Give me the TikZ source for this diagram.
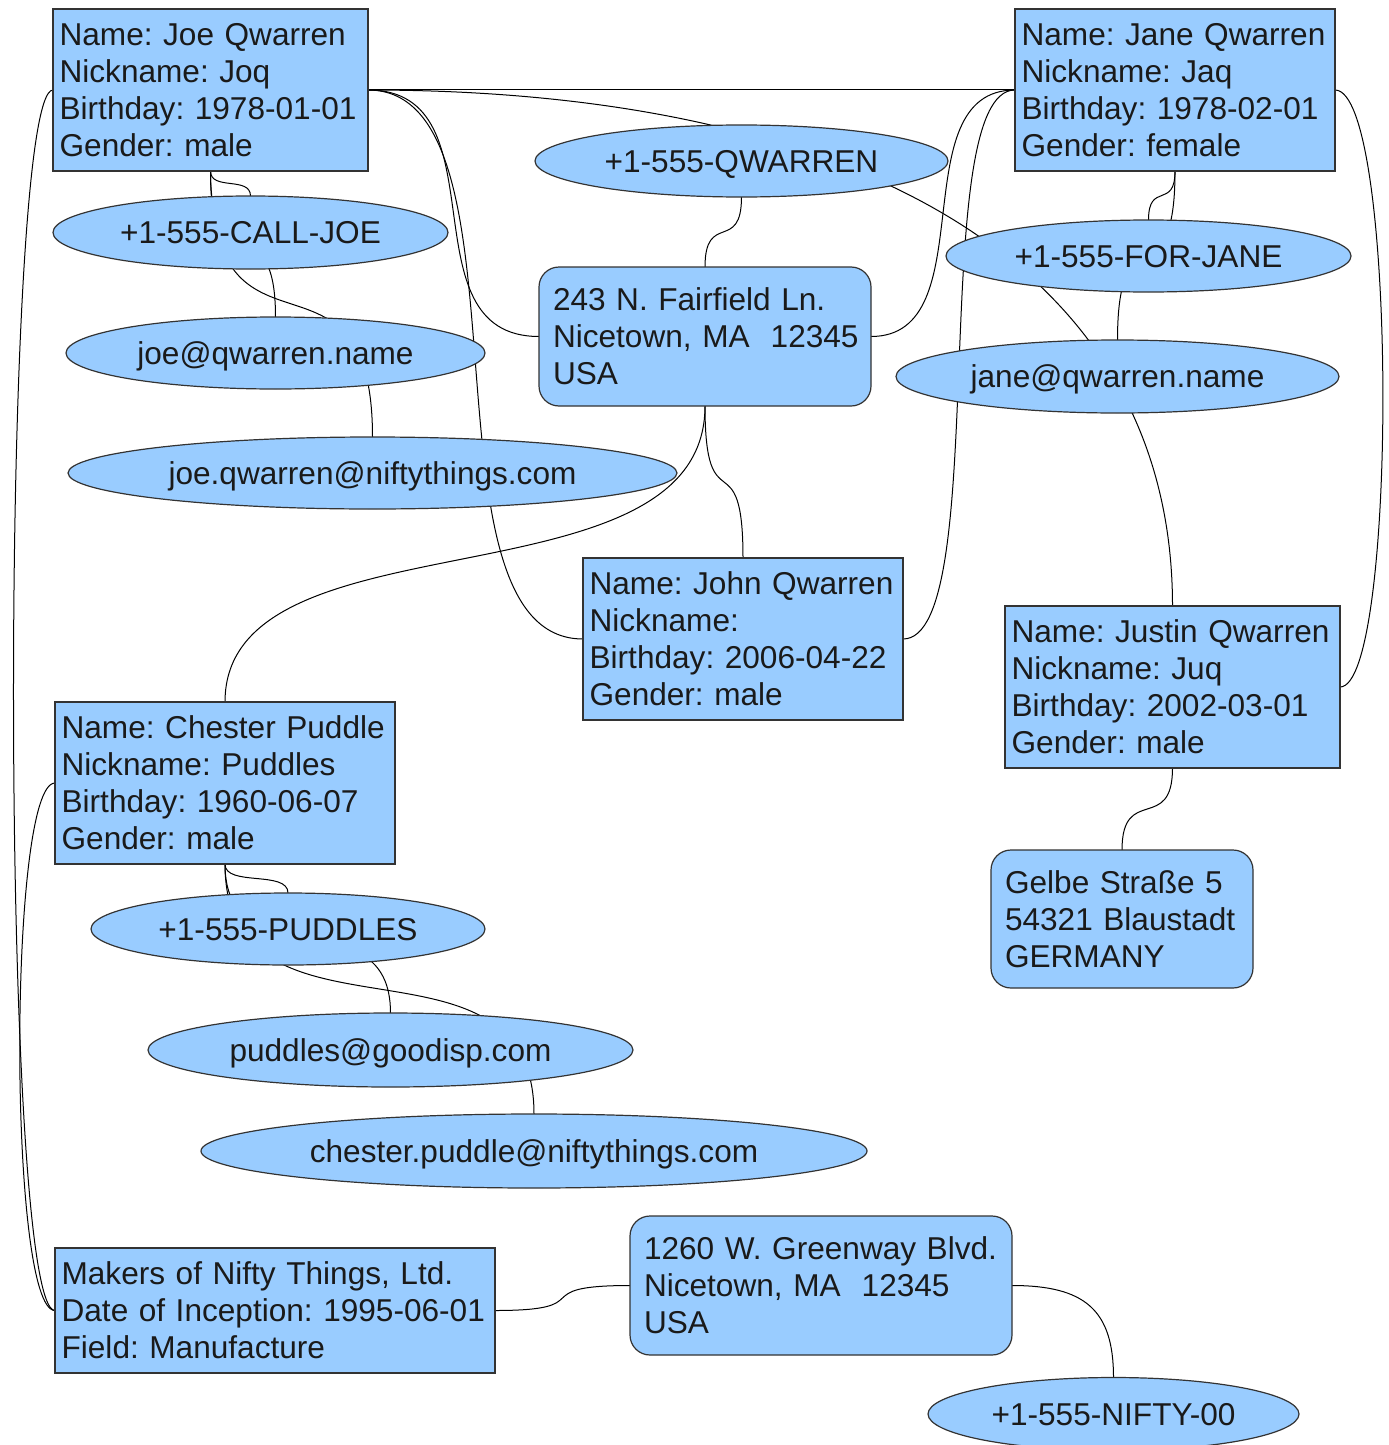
\documentclass[tikz,border=0pt]{standalone}
\usepackage{fontspec}
\setmainfont{Liberation Sans}
\usetikzlibrary{shapes.geometric,backgrounds}
\definecolor{nodefill}{HTML}{99CCFF}
\definecolor{nodeline}{HTML}{333333}
\definecolor{txt}{HTML}{1A1A1A}
\begin{document}
\begin{tikzpicture}[x=0.5pt,y=-0.5pt,
  base/.style={draw=nodeline,fill=nodefill,line width=0.6pt,text=txt,
    font=\fontsize{15.8}{18.5}\selectfont\frenchspacing,outer sep=0pt},
  person/.style={base,rectangle,align=left,inner xsep=3.3pt,inner ysep=0pt},
  place/.style={base,rectangle,rounded corners=10pt,align=left,inner xsep=7pt,inner ysep=0pt},
  contact/.style={base,ellipse,inner sep=0pt,text height=11.3pt,text depth=0pt},
  link/.style={line width=0.5pt,black}]
\useasboundingbox (0,0) rectangle (1388,1445);

% people
\node[person,text width=150.9pt,minimum height=81pt] (joe) at (210.5,90)
  {\mbox{Name: Joe Qwarren}\\\mbox{Nickname: Joq}\\\mbox{Birthday: 1978-01-01}\\\mbox{Gender: male}};
\node[person,text width=153.4pt,minimum height=81pt] (jane) at (1175,90)
  {\mbox{Name: Jane Qwarren}\\\mbox{Nickname: Jaq}\\\mbox{Birthday: 1978-02-01}\\\mbox{Gender: female}};
\node[person,text width=153.4pt,minimum height=81pt] (john) at (743,639)
  {\mbox{Name: John Qwarren}\\\mbox{Nickname:}\\\mbox{Birthday: 2006-04-22}\\\mbox{Gender: male}};
\node[person,text width=160.9pt,minimum height=81pt] (justin) at (1172.5,687)
  {\mbox{Name: Justin Qwarren}\\\mbox{Nickname: Juq}\\\mbox{Birthday: 2002-03-01}\\\mbox{Gender: male}};
\node[person,text width=163.4pt,minimum height=81pt] (chester) at (225,783)
  {\mbox{Name: Chester Puddle}\\\mbox{Nickname: Puddles}\\\mbox{Birthday: 1960-06-07}\\\mbox{Gender: male}};
\node[person,text width=213.4pt,minimum height=62.5pt] (makers) at (275,1310.5)
  {\mbox{Makers of Nifty Things, Ltd.}\\\mbox{Date of Inception: 1995-06-01}\\\mbox{Field: Manufacture}};

% places
\node[place,text width=152pt,minimum height=69.5pt] (addr1) at (705,336.5)
  {\mbox{243 N. Fairfield Ln.}\\\mbox{Nicetown, MA\ \ 12345}\\\mbox{USA}};
\node[place,text width=117pt,minimum height=69pt] (gelbe) at (1122,919)
  {\mbox{Gelbe Straße 5}\\\mbox{54321 Blaustadt}\\\mbox{GERMANY}};
\node[place,text width=177pt,minimum height=69.5pt] (addr2) at (821,1285.5)
  {\mbox{1260 W. Greenway Blvd.}\\\mbox{Nicetown, MA\ \ 12345}\\\mbox{USA}};

% contacts
\node[contact,minimum width=206.5pt,minimum height=36pt] (qwarren) at (741.5,161) {+1-555-QWARREN};
\node[contact,minimum width=197.5pt,minimum height=36.5pt] (calljoe) at (250.5,232.5) {+1-555-CALL-JOE};
\node[contact,minimum width=209.5pt,minimum height=36pt] (joeemail) at (275.5,353) {joe@qwarren.name};
\node[contact,minimum width=304.5pt,minimum height=36pt] (joenifty) at (372.5,473) {joe.qwarren@niftythings.com};
\node[contact,minimum width=202.5pt,minimum height=36pt] (forjane) at (1148.5,256) {+1-555-FOR-JANE};
\node[contact,minimum width=221.5pt,minimum height=36.5pt] (janemail) at (1117.5,376.5) {jane@qwarren.name};
\node[contact,minimum width=197pt,minimum height=36pt] (puddles) at (288,929) {+1-555-PUDDLES};
\node[contact,minimum width=242.5pt,minimum height=37pt] (puddlesmail) at (390.5,1050) {puddles@goodisp.com};
\node[contact,minimum width=333pt,minimum height=37pt] (chestermail) at (534,1151) {chester.puddle@niftythings.com};
\node[contact,minimum width=185.5pt,minimum height=36.5pt] (nifty) at (1113.5,1414) {+1-555-NIFTY-00};

\begin{scope}[on background layer]
\fill[white] (0,0) rectangle (1388,1445);
% Joe
\draw[link] (joe.east) -- (jane.west);
\draw[link] (joe.east) .. controls (850,90) and (1172.5,260) .. (justin.north);
\draw[link] (joe.east) .. controls (505,90) and (402,336.5) .. (addr1.west);
\draw[link] (joe.east) .. controls (540,90) and (411,639) .. (john.west);
\draw[link] (joe.west) .. controls (0,90) and (0,1310.5) .. (makers.west);
\draw[link] (joe.south) .. controls (210.5,191) and (250.5,176) .. (calljoe.north);
\draw[link] (joe.south) .. controls (210.5,288) and (275.5,200) .. (joeemail.north);
\draw[link] (joe.south) .. controls (210.5,384) and (372.5,224) .. (joenifty.north);
% Jane
\draw[link] (jane.west) .. controls (900,90) and (986,336.5) .. (addr1.east);
\draw[link] (jane.west) .. controls (925,90) and (993,639) .. (john.east);
\draw[link] (jane.east) .. controls (1398,90) and (1398,687) .. (justin.east);
\draw[link] (jane.south) .. controls (1175,210) and (1148.5,181) .. (forjane.north);
\draw[link] (jane.south) .. controls (1175,306) and (1117.5,205) .. (janemail.north);
% first address
\draw[link] (addr1.north) .. controls (705,211) and (741.5,253) .. (qwarren.south);
\draw[link] (addr1.south) .. controls (705,528) and (743,436) .. (john.north);
\draw[link] (addr1.south) .. controls (705,612) and (225,508) .. (chester.north);
% Justin
\draw[link] (justin.south) .. controls (1172.5,834) and (1122,784) .. (gelbe.north);
% Chester
\draw[link] (chester.west) .. controls (8,783) and (8,1310.5) .. (makers.west);
\draw[link] (chester.south) .. controls (225,887) and (288,870) .. (puddles.north);
\draw[link] (chester.south) .. controls (225,983) and (390.5,894) .. (puddlesmail.north);
\draw[link] (chester.south) .. controls (225,1064) and (534,914) .. (chestermail.north);
% company
\draw[link] (makers.east) .. controls (603,1310.5) and (522,1285.5) .. (addr2.west);
\draw[link] (addr2.east) .. controls (1085,1285.5) and (1113.5,1310) .. (nifty.north);
\end{scope}
\end{tikzpicture}
\end{document}
